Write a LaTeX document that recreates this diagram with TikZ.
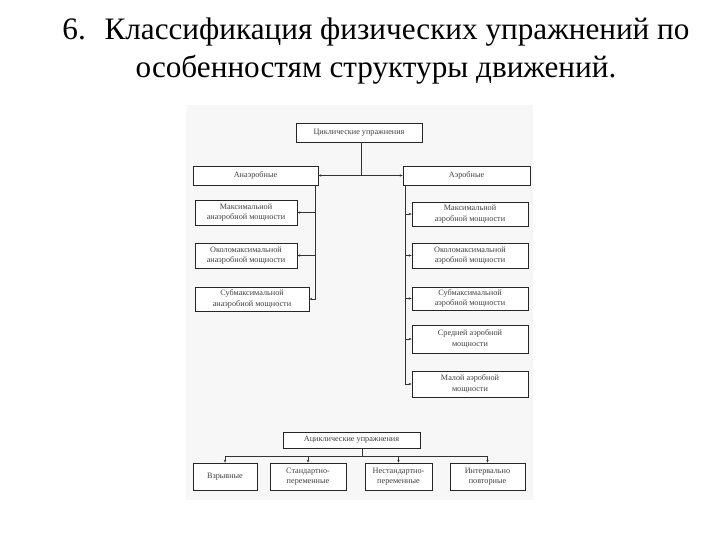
\documentclass[tikz,border=0pt]{standalone}
\usepackage{fontspec}
\setmainfont{Liberation Serif}
\usepackage{xcolor}
\usetikzlibrary{arrows.meta}

\tikzset{
	blk/.style={draw=black!85,line width=0.6pt,fill=white,align=center,inner sep=1pt,
		font=\fontsize{8.2}{10.5}\selectfont,text=black!75},
	lnk/.style={black!80,line width=0.5pt},
	tip/.style={lnk,-{Stealth[length=3pt,width=2.4pt]}}
}

\begin{document}
\begin{tikzpicture}[x=1pt,y=-1pt]
		\useasboundingbox (0,0) rectangle (720,540);
		% title
		\node[font=\fontsize{31.2}{38}\selectfont,align=center] (title) at (376,51)
			{6.\hspace{0.6em}Классификация физических упражнений по\\особенностям структуры движений.};
		% scanned sheet
		\fill[black!3] (186,105) rectangle (533,500);
		% cyclic part
		\node[blk,minimum width=126,minimum height=19] (cyc) at (359,132.5) {Циклические упражнения};
		\node[blk,minimum width=125,minimum height=19] (anaer) at (255.5,175.5) {Анаэробные};
		\node[blk,minimum width=127,minimum height=19] (aer) at (466.5,175.5) {Аэробные};
		\node[blk,minimum width=102,minimum height=25] (an1) at (246,212.5) {Максимальной\\анаэробной мощности};
		\node[blk,minimum width=102,minimum height=25] (an2) at (246,255.5) {Околомаксимальной\\анаэробной мощности};
		\node[blk,minimum width=114,minimum height=24] (an3) at (252,299) {Субмаксимальной\\анаэробной мощности};
		\node[blk,minimum width=116,minimum height=24] (ae1) at (470,214) {Максимальной\\аэробной мощности};
		\node[blk,minimum width=116,minimum height=25] (ae2) at (470,255.5) {Околомаксимальной\\аэробной мощности};
		\node[blk,minimum width=116,minimum height=23] (ae3) at (470,298.5) {Субмаксимальной\\аэробной мощности};
		\node[blk,minimum width=116,minimum height=28] (ae4) at (470,339) {Средней аэробной\\мощности};
		\node[blk,minimum width=116,minimum height=26] (ae5) at (470,384) {Малой аэробной\\мощности};
		\coordinate (lt) at (315,185);
		\coordinate (rt) at (405,185);
		\draw[lnk,{Stealth[length=3pt,width=2.4pt]}-{Stealth[length=3pt,width=2.4pt]}] (anaer) -- (aer);
		\draw[lnk] (cyc.south -| 361,0) -- (361,175.5);
		\draw[tip] (lt) |- (an3.east);
		\draw[tip] (lt |- an1.east) -- (an1.east);
		\draw[tip] (lt |- an2.east) -- (an2.east);
		\draw[tip] (rt) |- (ae5.west);
		\foreach \n in {ae1,ae2,ae3,ae4}
			\draw[tip] (rt |- \n.west) -- (\n.west);
		% acyclic part
		\node[blk,minimum width=137,minimum height=16] (acyc) at (351.5,440) {Ациклические упражнения};
		\node[blk,minimum width=64,minimum height=27] (b1) at (225,476.5) {Взрывные};
		\node[blk,minimum width=76,minimum height=27] (b2) at (308,476.5) {Стандартно-\\переменные};
		\node[blk,minimum width=67,minimum height=27] (b3) at (398.5,476.5) {Нестандартно-\\переменные};
		\node[blk,minimum width=75,minimum height=27] (b4) at (487.5,476.5) {Интервально\\повторные};
		\coordinate (ab) at (362,456);
		\draw[lnk] (acyc.south -| ab) -- (ab);
		\foreach \n in {b1,b2,b3,b4}
			\draw[tip] (ab) -| (\n);
	\end{tikzpicture}
\end{document}
